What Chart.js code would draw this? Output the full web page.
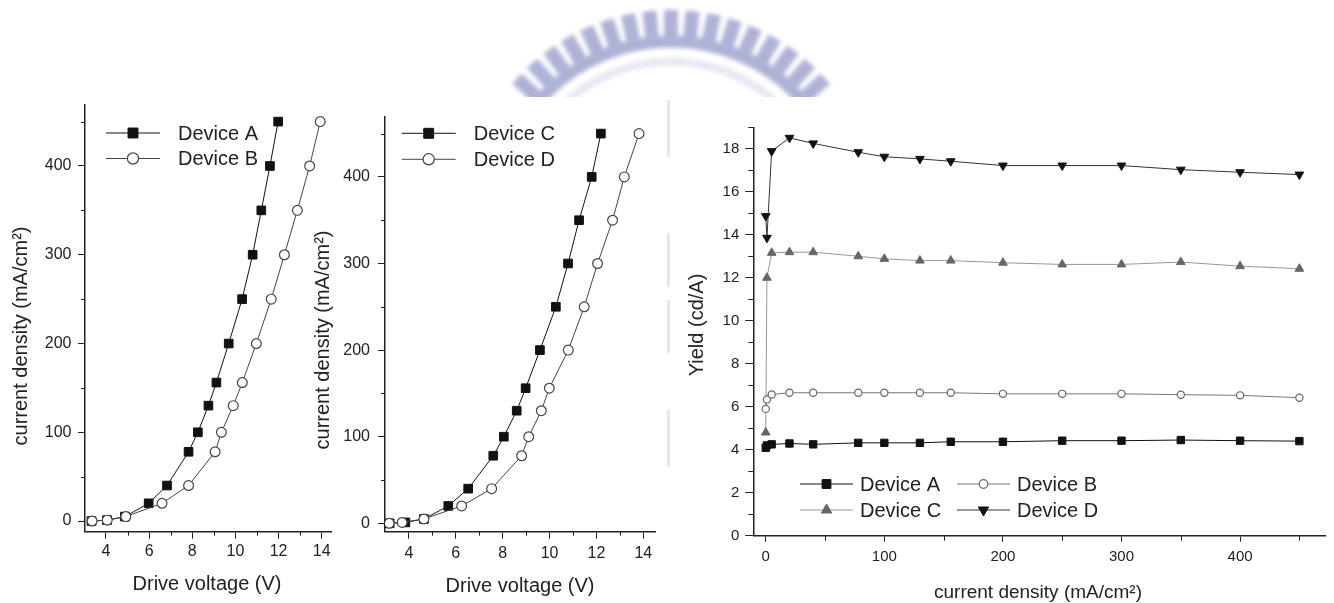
<!DOCTYPE html>
<html>
<head>
<meta charset="utf-8">
<script src="https://cdn.jsdelivr.net/npm/chart.js"></script>
<style>
  html, body { margin: 0; padding: 0; background: #fff; }
  #wrap { position: relative; width: 1334px; height: 603px; overflow: hidden; }
  canvas { position: absolute; left: 0; top: 0; }
</style>
</head>
<body>
<div id="wrap">
  <canvas id="bg" width="1334" height="603"></canvas>
  <canvas id="jvAB" width="1334" height="603"></canvas>
  <canvas id="jvCD" width="1334" height="603"></canvas>
  <canvas id="yield" width="1334" height="603"></canvas>
</div>
<script>
// current density steps (mA/cm2), same for every device
const densities = [0, 1, 5, 20, 40, 78, 100, 130, 156, 200, 250, 300, 350, 400, 450];

// drive voltage (V) reached at each density
const voltA = [3.33, 4.05, 4.88, 5.98, 6.83, 7.83, 8.26, 8.75, 9.12, 9.69, 10.31, 10.8, 11.2, 11.6, 11.98];
const voltB = [3.36, 4.06, 4.92, 6.6, 7.83, 9.06, 9.35, 9.9, 10.32, 10.97, 11.66, 12.27, 12.87, 13.44, 13.93];
const voltC = [3.18, 3.85, 4.64, 5.68, 6.53, 7.6, 8.05, 8.6, 8.98, 9.59, 10.27, 10.79, 11.26, 11.8, 12.19];
const voltD = [3.16, 3.71, 4.64, 6.25, 7.53, 8.81, 9.11, 9.65, 9.99, 10.8, 11.48, 12.05, 12.69, 13.19, 13.82];

// yield (cd/A) at each density
const yieldA = [4.09, 4.2, 4.25, 4.29, 4.25, 4.32, 4.32, 4.32, 4.37, 4.37, 4.42, 4.42, 4.45, 4.42, 4.4];
const yieldB = [5.9, 6.34, 6.57, 6.65, 6.65, 6.65, 6.65, 6.65, 6.65, 6.6, 6.6, 6.6, 6.56, 6.53, 6.42];
const yieldC = [4.8, 12.0, 13.16, 13.19, 13.19, 13.0, 12.88, 12.8, 12.8, 12.7, 12.62, 12.62, 12.73, 12.54, 12.42];
const yieldD = [14.87, 13.86, 17.89, 18.51, 18.25, 17.84, 17.63, 17.53, 17.42, 17.22, 17.22, 17.22, 17.03, 16.91, 16.8];

const fontFam = '"Liberation Sans", Arial, Helvetica, sans-serif';
Chart.defaults.font.family = fontFam;
Chart.defaults.color = '#222';

const pts = (xs, ys) => xs.map((x, i) => ({ x: x, y: ys[i] }));

function marker(ctx, ds, x, y, r) {
  ctx.save();
  ctx.fillStyle = ds.pointBackgroundColor;
  ctx.strokeStyle = ds.pointBorderColor;
  ctx.lineWidth = ds.pointBorderWidth || 1;
  ctx.beginPath();
  if (ds.pointStyle === 'rect') {
    const s = r * Math.SQRT1_2;
    ctx.rect(x - s, y - s, 2 * s, 2 * s);
  } else if (ds.pointStyle === 'circle') {
    ctx.arc(x, y, r, 0, Math.PI * 2);
  } else {
    const d = ds.pointRotation === 180 ? -1 : 1;
    for (let k = 0; k < 3; k++) {
      const a = k * 2 * Math.PI / 3;
      const px = x + Math.sin(a) * r, py = y - d * Math.cos(a) * r;
      k ? ctx.lineTo(px, py) : ctx.moveTo(px, py);
    }
    ctx.closePath();
  }
  ctx.fill();
  ctx.stroke();
  ctx.restore();
}

// minor ticks, axis titles and the in-plot legend
const extras = {
  id: 'extras',
  afterDraw(chart, args, o) {
    const ctx = chart.ctx;
    ctx.save();
    ctx.strokeStyle = '#222';
    ctx.lineWidth = 1;
    ['x', 'y'].forEach(id => {
      const s = chart.scales[id], step = o.minor[id];
      for (let v = Math.ceil(s.min / step) * step; v <= s.max + 1e-9; v += step) {
        if (Math.round(v / step) % 2 === 0) continue;
        const p = Math.round(s.getPixelForValue(v)) + 0.5;
        ctx.beginPath();
        if (id === 'x') {
          if (p < s.left + 2) continue;
          ctx.moveTo(p, s.top);
          ctx.lineTo(p, s.top + o.minorLen);
        } else {
          ctx.moveTo(s.right, p);
          ctx.lineTo(s.right - o.minorLen, p);
        }
        ctx.stroke();
      }
    });

    ctx.fillStyle = '#222';
    ctx.textAlign = 'center';
    ctx.textBaseline = 'middle';
    o.titles.forEach(t => {
      ctx.save();
      ctx.font = t.size + 'px ' + fontFam;
      ctx.translate(t.x, t.y);
      if (t.rot) ctx.rotate(-Math.PI / 2);
      ctx.fillText(t.text, 0, 0);
      ctx.restore();
    });

    const lg = o.legend;
    ctx.font = lg.size + 'px ' + fontFam;
    ctx.textAlign = 'left';
    chart.data.datasets.forEach((ds, i) => {
      const [x, y] = lg.pos[i];
      ctx.save();
      ctx.strokeStyle = ds.borderColor;
      ctx.lineWidth = ds.borderWidth;
      ctx.beginPath();
      ctx.moveTo(x, y);
      ctx.lineTo(x + lg.lineLen, y);
      ctx.stroke();
      ctx.restore();
      marker(ctx, ds, x + lg.lineLen / 2, y, ds.pointRadius * lg.scale);
      ctx.fillStyle = '#222';
      ctx.fillText(ds.label, x + lg.lineLen + lg.gap, y + 1);
    });
    ctx.restore();
  }
};

function axis(min, max, step, size, tl, pad, fix, isX) {
  return {
    type: 'linear',
    min: min,
    max: max,
    afterFit: s => { if (isX) s.height = fix; else s.width = fix; },
    grid: { drawOnChartArea: false, tickLength: tl, color: '#222', tickWidth: 1 },
    border: { color: '#222', width: 1.5 },
    ticks: { stepSize: step, includeBounds: false, padding: pad, color: '#222', font: { size: size } }
  };
}

function makeChart(id, datasets, cfg) {
  return new Chart(document.getElementById(id), {
    type: 'line',
    data: { datasets: datasets },
    options: {
      responsive: false,
      animation: false,
      devicePixelRatio: 1,
      layout: { padding: cfg.pad },
      elements: { line: { tension: 0 } },
      plugins: { legend: { display: false }, tooltip: { enabled: false }, extras: cfg.extras },
      scales: { x: cfg.x, y: cfg.y }
    },
    plugins: [extras]
  });
}

const filledSq = (label, xs, ys, color, r, order) => ({
  label: label, data: pts(xs, ys), order: order,
  borderColor: color, borderWidth: 1,
  pointStyle: 'rect', pointRadius: r, pointBackgroundColor: color, pointBorderColor: color, pointBorderWidth: 1
});
const openCirc = (label, xs, ys, color, lineColor, r, order) => ({
  label: label, data: pts(xs, ys), order: order,
  borderColor: lineColor, borderWidth: 1,
  pointStyle: 'circle', pointRadius: r, pointBackgroundColor: '#fff', pointBorderColor: color, pointBorderWidth: 1.2
});

makeChart('jvAB', [
  filledSq('Device A', voltA, densities, '#111', 6.1, 1),
  openCirc('Device B', voltB, densities, '#444', '#444', 4.9, 0)
], {
  pad: { left: 0, top: 105, right: 1003, bottom: 0 },
  x: axis(3.03, 14.43, 2, 16, 7, 3.4, 71.3, true),
  y: axis(-12, 468.7, 100, 16, 7, 6.5, 85, false),
  extras: {
    minor: { x: 1, y: 50 }, minorLen: 4,
    titles: [
      { text: 'Drive voltage (V)', x: 207, y: 584, size: 20 },
      { text: 'current density (mA/cm²)', x: 21, y: 336, size: 20, rot: true }
    ],
    legend: { size: 20, lineLen: 54, gap: 18, scale: 1.15, pos: [[106, 133], [106, 158.5]] }
  }
});

makeChart('jvCD', [
  filledSq('Device C', voltC, densities, '#111', 6.1, 1),
  openCirc('Device D', voltD, densities, '#444', '#444', 4.9, 0)
], {
  pad: { left: 340, top: 116.7, right: 679, bottom: 0 },
  x: axis(2.98, 14.5, 2, 16, 7, 5, 71.3, true),
  y: axis(-9.7, 469.5, 100, 16, 7, 8, 45, false),
  extras: {
    minor: { x: 1, y: 50 }, minorLen: 4,
    titles: [
      { text: 'Drive voltage (V)', x: 520, y: 586, size: 20 },
      { text: 'current density (mA/cm²)', x: 323, y: 340, size: 20, rot: true }
    ],
    legend: { size: 20, lineLen: 54, gap: 18, scale: 1.15, pos: [[401.7, 133.3], [401.7, 159.3]] }
  }
});

makeChart('yield', [
  filledSq('Device A', densities, yieldA, '#111', 5.2, 0),
  openCirc('Device B', densities, yieldB, '#666', '#777', 3.6, 1),
  {
    label: 'Device C', data: pts(densities, yieldC), order: 2,
    borderColor: '#999', borderWidth: 1,
    pointStyle: 'triangle', pointRadius: 5, pointBackgroundColor: '#666', pointBorderColor: '#666', pointBorderWidth: 1
  },
  {
    label: 'Device D', data: pts(densities, yieldD), order: 3,
    borderColor: '#333', borderWidth: 1,
    pointStyle: 'triangle', pointRotation: 180, pointRadius: 5, pointBackgroundColor: '#111', pointBorderColor: '#111', pointBorderWidth: 1
  }
], {
  pad: { left: 680, top: 127.3, right: 9, bottom: 0 },
  x: axis(-10.5, 471.6, 100, 15, 6, 6.6, 67.3, true),
  y: axis(0, 19, 2, 15, 8, 6, 73.3, false),
  extras: {
    minor: { x: 50, y: 1 }, minorLen: 5,
    titles: [
      { text: 'current density (mA/cm²)', x: 1038, y: 593, size: 19 },
      { text: 'Yield (cd/A)', x: 697, y: 325, size: 20, rot: true }
    ],
    legend: { size: 20, lineLen: 53, gap: 7, scale: 1.2, pos: [[800, 484], [957, 484], [800, 510], [957, 510]] }
  }
});

// faint university seal showing through behind the figures
(function drawSeal() {
  const c = document.getElementById('bg').getContext('2d');
  c.save();
  c.beginPath();
  c.rect(470, 0, 400, 97);
  c.clip();
  c.filter = 'blur(2px)';
  const cx = 671, cy = 217.5;
  c.fillStyle = 'rgba(140,147,196,0.7)';
  for (let k = -8; k <= 8; k++) {
    c.save();
    c.translate(cx, cy);
    c.rotate(k * 6 * Math.PI / 180);
    c.fillRect(-7, -207.5, 14, 27);
    c.restore();
  }
  const a0 = -Math.PI / 2 - 0.9, a1 = -Math.PI / 2 + 0.9;
  c.beginPath();
  c.arc(cx, cy, 182, a0, a1);
  c.arc(cx, cy, 170, a1, a0, true);
  c.closePath();
  c.fill();
  c.fillStyle = 'rgba(160,166,205,0.25)';
  c.beginPath();
  c.arc(cx, cy, 160, a0, a1);
  c.arc(cx, cy, 152, a1, a0, true);
  c.closePath();
  c.fill();
  c.restore();
  c.fillStyle = 'rgba(180,186,222,0.35)';
  [[100, 57], [233, 54], [300, 53], [410, 57]].forEach(([y, h]) => c.fillRect(667, y, 3, h));
})();
</script>
</body>
</html>
